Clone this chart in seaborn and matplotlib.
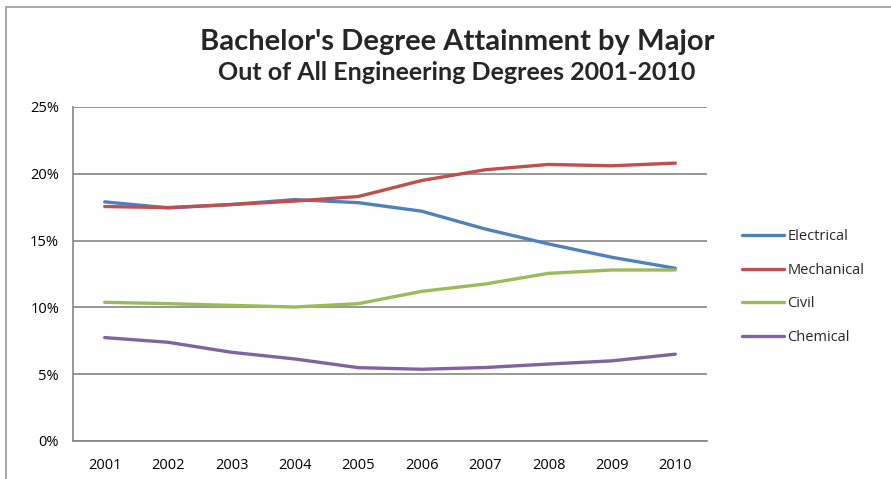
import matplotlib
matplotlib.use("Agg")
import matplotlib.pyplot as plt
import matplotlib.ticker as mticker
from matplotlib.patches import Rectangle
import seaborn as sns
import pandas as pd
import numpy as np

years = ["2001", "2002", "2003", "2004", "2005", "2006", "2007", "2008", "2009", "2010"]
electrical = [17.9, 17.45, 17.7, 18.07, 17.84, 17.2, 15.87, 14.75, 13.75, 12.93]
mechanical = [17.55, 17.47, 17.7, 17.96, 18.3, 19.5, 20.3, 20.7, 20.6, 20.8]
civil = [10.38, 10.28, 10.15, 10.03, 10.28, 11.2, 11.75, 12.55, 12.8, 12.8]
chemical = [7.74, 7.39, 6.64, 6.14, 5.49, 5.37, 5.5, 5.76, 6.0, 6.5]
series_names = ["Electrical", "Mechanical", "Civil", "Chemical"]
colors = ["#4F81BD", "#C0504D", "#9BBB59", "#8064A2"]

rows = []
for name, vals in zip(series_names, [electrical, mechanical, civil, chemical]):
    for i, (yr, v) in enumerate(zip(years, vals)):
        rows.append({"idx": i, "year": yr, "major": name, "value": v})
df = pd.DataFrame(rows)

sns.set_style("white")
plt.rcParams['font.family'] = ['Open Sans', 'DejaVu Sans']

fig = plt.figure(figsize=(8.91, 4.79), dpi=100)
ax = fig.add_axes([73/891, 1-441/479, (707-73)/891, (441-107)/479])

sns.lineplot(data=df, x="idx", y="value", hue="major", hue_order=series_names,
             palette=colors, linewidth=2.4, ax=ax, legend=True)

ax.set_xlim(-0.5, 9.5)
ax.set_ylim(0, 25)
ax.set_yticks([0, 5, 10, 15, 20, 25])
ax.yaxis.set_major_formatter(mticker.FuncFormatter(lambda v, p: f"{int(v)}%"))
ax.set_xticks(range(10))
ax.set_xticklabels(years)
ax.set_xticks(np.arange(-0.5, 10, 1), minor=True)
ax.tick_params(axis="x", which="major", length=0, pad=12, labelsize=10.5, colors="black")
ax.tick_params(axis="x", which="minor", length=5, width=1.2, color="#868686", direction="out")
ax.tick_params(axis="y", which="major", length=7, width=1.2, color="#868686", direction="out",
               labelsize=10.5, pad=3, colors="black")
ax.tick_params(axis="y", colors="#868686", labelcolor="black")
ax.tick_params(axis="x", which="minor", colors="#868686")
ax.set_xlabel("")
ax.set_ylabel("")
ax.grid(axis="y", color="#868686", linewidth=1.2)
ax.set_axisbelow(True)
for s in ["top", "right"]:
    ax.spines[s].set_visible(False)
for s in ["left", "bottom"]:
    ax.spines[s].set_color("#868686")
    ax.spines[s].set_linewidth(1.2)

handles, labels = ax.get_legend_handles_labels()
ax.legend(handles, labels, loc="center left", bbox_to_anchor=(729/891, 1-287/479),
          bbox_transform=fig.transFigure, frameon=False, fontsize=10.5,
          handlelength=2.9, handletextpad=0.2, labelspacing=1.27)

fig.text(457/891, 1-42/479, "Bachelor's Degree Attainment by Major", ha="center", va="center",
         fontsize=21, fontweight="bold", family=["Lato", "DejaVu Sans"])
fig.text(457/891, 1-72/479, "Out of All Engineering Degrees 2001-2010", ha="center", va="center",
         fontsize=18, fontweight="bold", family=["Lato", "DejaVu Sans"])

fig.patches.append(Rectangle((6/891, -0.1), 1.2, 1 - 7/479 + 0.1, transform=fig.transFigure,
                             fill=False, edgecolor="#9a9a9a", linewidth=1.2))

fig.savefig("out.png", dpi=100)
